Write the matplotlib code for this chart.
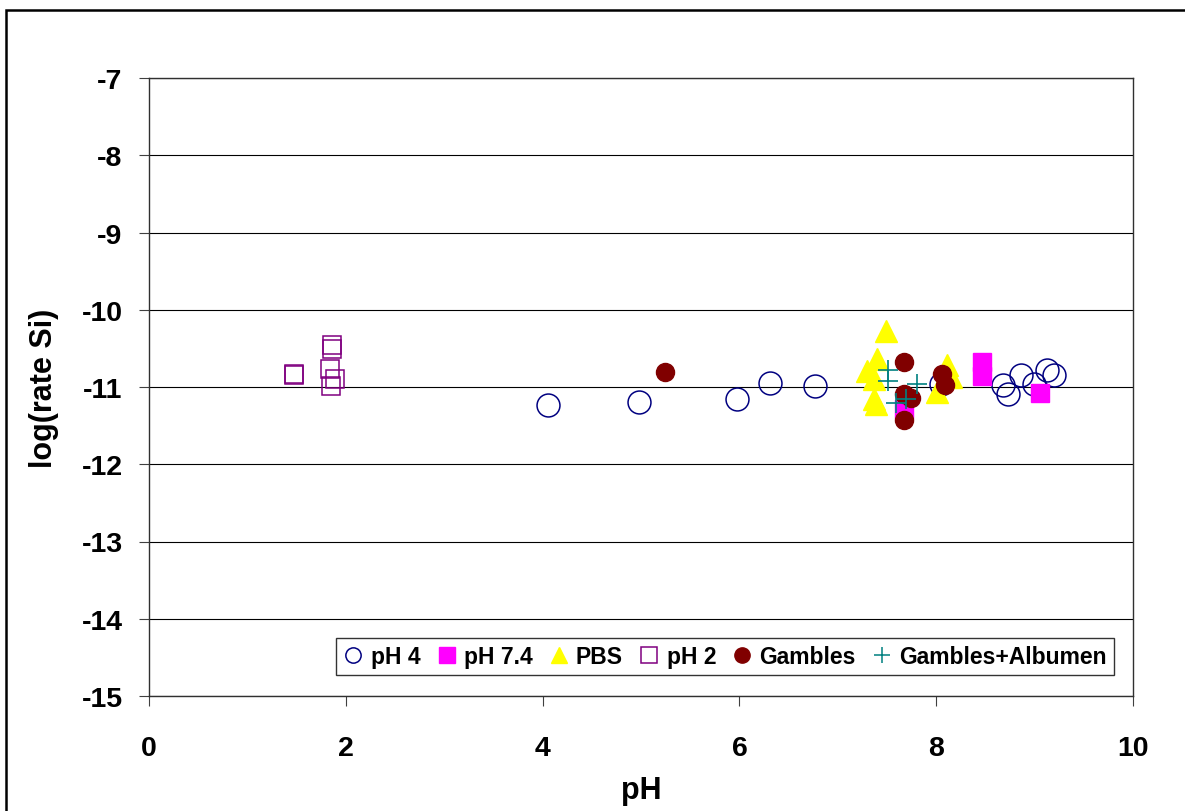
import matplotlib
matplotlib.use("Agg")
import matplotlib.pyplot as plt
from matplotlib.lines import Line2D
from matplotlib.patches import Rectangle

# dissolution rate of Si vs pH for each medium
ph4_x = [4.05, 4.98, 5.98, 6.31, 6.77, 8.05, 8.68, 8.73, 8.86, 8.99, 9.13, 9.20]
ph4_y = [-11.23, -11.20, -11.16, -10.95, -10.99, -10.96, -10.97, -11.09, -10.84, -10.96, -10.78, -10.84]

ph74_x = [8.47, 8.47, 9.05, 7.67]
ph74_y = [-10.67, -10.86, -11.08, -11.29]

pbs_x = [7.49, 7.40, 7.30, 7.37, 7.37, 7.39, 8.11, 8.15, 8.01]
pbs_y = [-10.27, -10.64, -10.79, -10.90, -11.16, -11.22, -10.72, -10.87, -11.07]

ph2_x = [1.47, 1.47, 1.86, 1.86, 1.84, 1.89, 1.85]
ph2_y = [-10.83, -10.84, -10.46, -10.51, -10.77, -10.90, -10.99]

gam_x = [5.24, 7.67, 7.67, 7.74, 7.67, 8.06, 8.09]
gam_y = [-10.81, -10.67, -11.09, -11.14, -11.43, -10.83, -10.97]

alb_x = [7.51, 7.51, 7.80, 7.59, 7.69]
alb_y = [-10.78, -10.92, -10.96, -11.21, -11.16]

NAVY, MAGENTA, YELLOW = "#000080", "#ff00ff", "#ffff00"
PURPLE, MAROON, TEAL = "#800080", "#800000", "#008080"

plt.rcParams["font.family"] = ["Liberation Sans", "DejaVu Sans"]
plt.rcParams["axes.unicode_minus"] = False

fig = plt.figure(figsize=(11.85, 8.12), dpi=100, facecolor="white")
fig.patches.append(Rectangle((6 / 1185, -0.1), 2.0, 1.1 - 11 / 812,
                             transform=fig.transFigure, fill=False,
                             edgecolor="black", linewidth=1.8))

ax = fig.add_axes([149 / 1185, 1 - 697 / 812, 984 / 1185, 618 / 812])
ax.set_axisbelow(True)
ax.grid(axis="y", color="black", linewidth=0.8)

ax.plot(ph4_x, ph4_y, "o", ms=16.5, mfc="none", mec=NAVY, mew=1.1, linestyle="none")
ax.plot(ph74_x, ph74_y, "s", ms=13.5, mfc=MAGENTA, mec=MAGENTA, linestyle="none")
ax.plot(pbs_x, pbs_y, "^", ms=16, mfc=YELLOW, mec=YELLOW, linestyle="none")
ax.plot(ph2_x, ph2_y, "s", ms=13.5, mfc="none", mec=PURPLE, mew=1.1, linestyle="none")
ax.plot(gam_x, gam_y, "o", ms=13, mfc=MAROON, mec=MAROON, linestyle="none")
ax.plot(alb_x, alb_y, "+", ms=14, mec=TEAL, mew=1.2, linestyle="none")

ax.set_xlim(0, 10)
ax.set_ylim(-15, -7)
ax.set_xticks(range(0, 11, 2))
ax.set_yticks(range(-15, -6))
ax.tick_params(axis="both", direction="out", length=7, width=0.8,
               labelsize=20.5, color="#404040")
ax.tick_params(axis="y", pad=12)
ax.tick_params(axis="x", pad=21)
for lbl in ax.get_xticklabels() + ax.get_yticklabels():
    lbl.set_fontweight("bold")
for side in ax.spines.values():
    side.set_color("#303030")
    side.set_linewidth(1.0)

ax.set_xlabel("pH", fontsize=22, fontweight="bold", labelpad=10)
ax.set_ylabel("log(rate Si)", fontsize=22, fontweight="bold", labelpad=16)

handles = [
    Line2D([], [], marker="o", ls="none", ms=11, mfc="none", mec=NAVY, mew=1.1, label="pH 4"),
    Line2D([], [], marker="s", ls="none", ms=11, mfc=MAGENTA, mec=MAGENTA, label="pH 7.4"),
    Line2D([], [], marker="^", ls="none", ms=12, mfc=YELLOW, mec=YELLOW, label="PBS"),
    Line2D([], [], marker="s", ls="none", ms=11, mfc="none", mec=PURPLE, mew=1.1, label="pH 2"),
    Line2D([], [], marker="o", ls="none", ms=11, mfc=MAROON, mec=MAROON, label="Gambles"),
    Line2D([], [], marker="+", ls="none", ms=12, mec=TEAL, mew=1.1, label="Gambles+Albumen"),
]
leg = fig.legend(handles=handles, loc="center", bbox_to_anchor=(725 / 1185, 1 - 657.5 / 812),
                 ncol=6, frameon=True, fancybox=False, shadow=False, edgecolor="black",
                 handlelength=0.9, handletextpad=0.3, columnspacing=0.7,
                 borderpad=0.3, prop={"weight": "bold", "size": 16.5})
leg.get_frame().set_linewidth(1.0)

fig.savefig("out.png", dpi=100, facecolor="white")
